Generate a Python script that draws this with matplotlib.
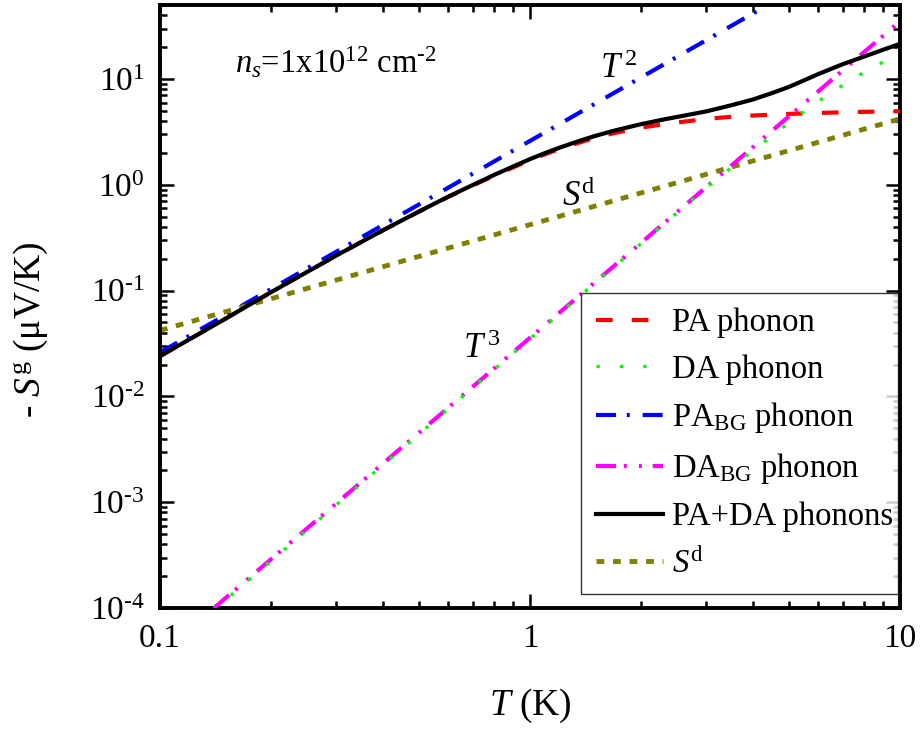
import numpy as np
import matplotlib
matplotlib.use("Agg")
import matplotlib.pyplot as plt

plt.rcParams['font.family'] = ['Liberation Serif', 'DejaVu Serif']
plt.rcParams['mathtext.fontset'] = 'custom'
plt.rcParams['mathtext.rm'] = 'Liberation Serif'
plt.rcParams['mathtext.it'] = 'Liberation Serif:italic'
plt.rcParams['mathtext.bf'] = 'Liberation Serif:bold'

# datos (T en K, -S^g en uV/K)
t_pa = [0.1, 0.15, 0.2, 0.3, 0.4, 0.5, 0.6, 0.7, 0.8, 0.9, 1.0, 1.1, 1.2, 1.35, 1.5, 1.7,
        2.0, 2.3, 2.6, 3.0, 3.5, 4.0, 5.0, 6.0, 8.0, 10.0]
s_pa = [0.024, 0.054, 0.097, 0.215, 0.37, 0.555, 0.765, 0.985, 1.22, 1.46, 1.71, 1.95, 2.18, 2.49, 2.78, 3.1,
        3.47, 3.75, 3.95, 4.2, 4.4, 4.52, 4.68, 4.78, 4.9, 4.97]

t_tot = [0.1, 0.15, 0.2, 0.3, 0.4, 0.5, 0.6, 0.7, 0.8, 0.9, 1.0, 1.1, 1.2, 1.35, 1.5, 1.7,
         2.0, 2.3, 2.6, 3.0, 3.5, 4.0, 4.5, 5.0, 5.5, 6.0, 7.0, 8.0, 9.0, 10.0]
s_tot = [0.024, 0.054, 0.097, 0.215, 0.371, 0.557, 0.77, 0.995, 1.24, 1.49, 1.75, 2.0, 2.24, 2.58, 2.9, 3.27,
         3.75, 4.15, 4.5, 4.95, 5.65, 6.4, 7.35, 8.4, 9.7, 11.1, 13.8, 16.3, 18.9, 21.5]

t_da = [0.1, 1.0, 2.0, 3.0, 3.8, 4.4, 5.0, 5.7, 6.6, 7.5, 8.6, 10.0]
s_da = [3.5e-5, 0.035, 0.28, 0.94, 1.83, 2.71, 3.85, 5.4, 7.65, 10.2, 13.3, 17.5]

t_pabg = [0.1, 4.5]
s_pabg = [0.026, 52.6]

t_dabg = [0.14, 10.0]
s_dabg = [1.0e-4, 35.0]

t_sd = [0.1, 10.0]
s_sd = [0.042, 4.2]

ytick_vals = [1e-4, 1e-3, 1e-2, 1e-1, 1e0, 1e1]
ytick_txt = [r'10$^{\text{-4}}$', r'10$^{\text{-3}}$', r'10$^{\text{-2}}$', r'10$^{\text{-1}}$',
             r'10$^{\text{0}}$', r'10$^{\text{1}}$']

fig = plt.figure(figsize=(9.23, 7.29), dpi=100)
ax = fig.add_axes([0.1733, 0.166, 0.8017, 0.827])

lw = 3.0
ax.plot(t_pa, s_pa, color='#ff0000', lw=lw, dashes=(4.0, 4.6), label='PA phonon', zorder=3)
ax.plot(t_da, s_da, color='#00ff00', lw=2.4, dashes=(1.0, 6.0), label='DA phonon', zorder=4)
ax.plot(t_pabg, s_pabg, color='#0000ff', lw=lw, dashes=(4.8, 2.6, 0.7, 3.1), label=r'PA$_{\rm BG}$ phonon', zorder=2)
ax.plot(t_dabg, s_dabg, color='#ff00ff', lw=lw, dashes=(4.8, 1.9, 0.7, 2.9, 0.7, 2.6), label=r'DA$_{\rm BG}$ phonon', zorder=3)
ax.plot(t_tot, s_tot, color='black', lw=lw, label='PA+DA phonons', zorder=5)
ax.plot(t_sd, s_sd, color='#808000', lw=3.5, dashes=(1.6, 1.8), label=r'$S^{\rm d}$', zorder=2)

ax.set_xscale('log')
ax.set_yscale('log')
ax.set_xlim(0.1, 10)
ax.set_ylim(1e-4, 50)

ax.set_xticks([0.1, 1, 10])
ax.set_xticklabels(['0.1', '1', '10'])
ax.set_yticks(ytick_vals)
ax.set_yticklabels(ytick_txt)

for s in ax.spines.values():
    s.set_linewidth(2.8)
ax.tick_params(which='both', direction='in', top=True, right=True, width=1.8, labelsize=24)
ax.tick_params(which='major', length=10, pad=11)
ax.tick_params(which='minor', length=5)

ax.set_xlabel(r'$T$ (K)', fontsize=27)
ax.xaxis.set_label_coords(0.5, -0.13)
ax.set_ylabel(r'- $S^{\rm g}$ (μV/K)', fontsize=27)
ax.yaxis.set_label_coords(-0.149, 0.461)

ax.text(0.16, 11.4, r'$n_s$=1x10$^{12}$ cm$^{\text{-2}}$', fontsize=23.5, ha='left', va='baseline')
ax.text(1.546, 10.2, r'$T^{\,\rm 2}$', fontsize=25, ha='left', va='baseline')
ax.text(1.22, 0.63, r'$S^{\rm d}$', fontsize=25, ha='left', va='baseline')
ax.text(0.659, 0.0233, r'$T^{\,\rm 3}$', fontsize=25, ha='left', va='baseline')

leg = ax.legend(loc='upper left', bbox_to_anchor=(0.569, 0.522, 0.428, 0.0), mode='expand',
                fontsize=23.5, frameon=True, fancybox=False, handlelength=2.05, handletextpad=0.3,
                borderaxespad=0, borderpad=0.45, labelspacing=0.48)
leg.get_frame().set_edgecolor('black')
leg.get_frame().set_linewidth(1.0)

fig.savefig('out.png', dpi=100)
